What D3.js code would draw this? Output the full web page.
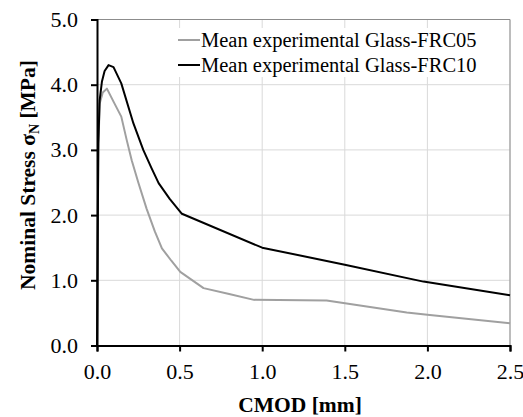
<!DOCTYPE html>
<html>
<head>
<meta charset="utf-8">
<script src="https://cdn.jsdelivr.net/npm/d3@7"></script>
<style>
  body { margin: 0; background: #fff; }
  text { font-family: "Liberation Serif", "Times New Roman", serif; }
</style>
</head>
<body>
<div id="chart"></div>
<script>
// CMOD [mm] vs nominal stress [MPa]
var frc05X = [0, 0.008, 0.016, 0.035, 0.06, 0.1, 0.147, 0.18, 0.21, 0.25, 0.3, 0.35, 0.393, 0.45, 0.504, 0.645, 0.8, 0.95, 1.39, 1.875, 2.0, 2.5];
var frc05Y = [0, 3.0, 3.71, 3.88, 3.94, 3.74, 3.51, 3.15, 2.84, 2.5, 2.1, 1.75, 1.49, 1.3, 1.13, 0.88, 0.79, 0.70, 0.69, 0.505, 0.47, 0.34];
var frc10X = [0, 0.008, 0.016, 0.03, 0.046, 0.07, 0.1, 0.147, 0.22, 0.28, 0.33, 0.373, 0.44, 0.514, 1.0, 1.5, 1.976, 2.5];
var frc10Y = [0, 3.1, 3.76, 4.05, 4.21, 4.30, 4.27, 4.02, 3.41, 3.0, 2.72, 2.49, 2.25, 2.02, 1.5, 1.24, 0.98, 0.77];
var seriesNames = ["Mean experimental Glass-FRC05", "Mean experimental Glass-FRC10"];
var xTicks = [0, 0.5, 1.0, 1.5, 2.0, 2.5];
var yTicks = [0, 1, 2, 3, 4, 5];

var W = 523, H = 417;
var svg = d3.select("#chart").append("svg").attr("width", W).attr("height", H);

var x = d3.scaleLinear().domain([0, 2.5]).range([97, 510]);
var y = d3.scaleLinear().domain([0, 5]).range([345.5, 19.5]);

// grid
svg.selectAll(".gx").data(xTicks.slice(1)).enter().append("line")
  .attr("x1", d => x(d)).attr("x2", d => x(d)).attr("y1", y(0)).attr("y2", y(5))
  .attr("stroke", "#d9d9d9").attr("stroke-width", 1);
svg.selectAll(".gy").data(yTicks.slice(1)).enter().append("line")
  .attr("x1", x(0)).attr("x2", x(2.5)).attr("y1", d => y(d)).attr("y2", d => y(d))
  .attr("stroke", "#d9d9d9").attr("stroke-width", 1);

// legend box (covers grid)
svg.append("rect").attr("x", 176).attr("y", 28).attr("width", 330).attr("height", 49).attr("fill", "#fff");

// top / right border
svg.append("path")
  .attr("d", "M" + x(0) + "," + y(5) + "H" + x(2.5) + "V" + y(0))
  .attr("fill", "none").attr("stroke", "#8c8c8c").attr("stroke-width", 1);

// lines
var colors = ["#a0a0a0", "#000"];
var data = [d3.zip(frc05X, frc05Y), d3.zip(frc10X, frc10Y)];
var line = d3.line().x(d => x(d[0])).y(d => y(d[1]));
svg.selectAll(".series").data(data).enter().append("path")
  .attr("d", line).attr("fill", "none")
  .attr("stroke", (d, i) => colors[i]).attr("stroke-width", 2)
  .attr("stroke-linejoin", "round");

// axes
var xAxis = svg.append("g").attr("transform", "translate(0," + y(0) + ")")
  .call(d3.axisBottom(x).tickValues(xTicks).tickFormat(d3.format(".1f")).tickSizeOuter(0).tickSize(6).tickPadding(12));
var yAxis = svg.append("g").attr("transform", "translate(" + x(0) + ",0)")
  .call(d3.axisLeft(y).tickValues(yTicks).tickFormat(d3.format(".1f")).tickSizeOuter(0).tickSize(6).tickPadding(13));
[xAxis, yAxis].forEach(function(a) {
  a.select(".domain").attr("stroke", "#000").attr("stroke-width", 2);
  a.selectAll(".tick line").attr("stroke", "#000").attr("stroke-width", 2);
  a.selectAll("text").attr("font-size", 22).attr("fill", "#000");
});

// legend
seriesNames.forEach(function(n, i) {
  var ly = 40 + i * 25;
  svg.append("line").attr("x1", 178).attr("x2", 200).attr("y1", ly).attr("y2", ly)
    .attr("stroke", colors[i]).attr("stroke-width", 2);
  svg.append("text").attr("x", 201).attr("y", ly).attr("dy", "0.33em")
    .attr("font-size", 20.5).text(n);
});

// axis titles
svg.append("text").attr("x", 300).attr("y", 412).attr("text-anchor", "middle")
  .attr("font-size", 21.5).attr("font-weight", "bold").text("CMOD [mm]");
var yt = svg.append("text").attr("transform", "translate(35,175) rotate(-90)")
  .attr("text-anchor", "middle").attr("font-size", 21.5).attr("font-weight", "bold");
yt.append("tspan").text("Nominal Stress σ");
yt.append("tspan").attr("font-size", 14).attr("dy", 4).text("N");
yt.append("tspan").attr("dy", -4).text(" [MPa]");
</script>
</body>
</html>
